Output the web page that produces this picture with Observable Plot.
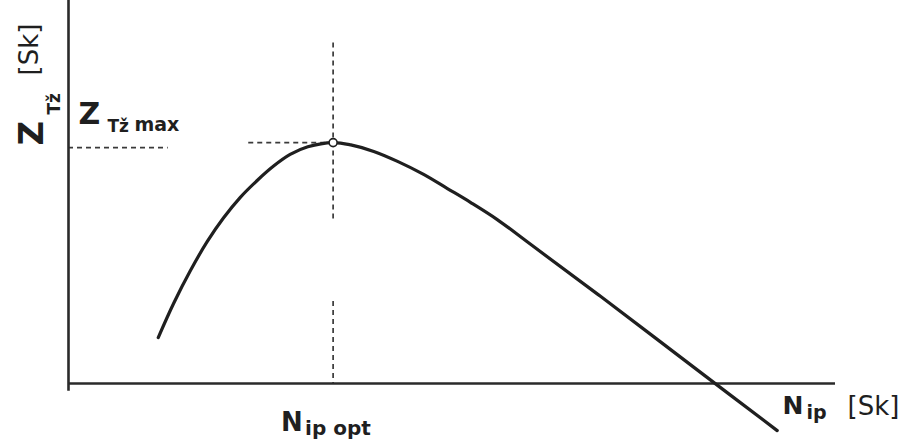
<!DOCTYPE html>
<html>
<head>
<meta charset="utf-8">
<script src="https://cdn.jsdelivr.net/npm/d3@7"></script>
<script src="https://cdn.jsdelivr.net/npm/@observablehq/plot@0.6"></script>
<style>
  html, body { margin: 0; padding: 0; background: #fff; }
  #chart svg { display: block; }
</style>
</head>
<body>
<div id="chart"></div>
<script>
// Profit Z_Tž as a function of the production volume N_ip (relative units, 0–100)
const nIp = [11.7, 13.7, 15.9, 18.1, 20.2, 22.4, 24.6, 26.7, 28.9, 31.2, 34.5,
             36.8, 39.8, 42.9, 46.3, 49.4, 52.4, 55.9, 60.2, 69.4, 82.4, 92.4];
const zT  = [12.0, 20.9, 29.5, 37.1, 43.2, 48.6, 53.0, 56.7, 59.8, 61.8, 62.9,
             62.3, 60.6, 58.0, 54.6, 50.9, 47.3, 42.8, 36.4, 22.7, 2.9, -12.3];

// Optimum point
const nOpt = 34.5;
const zMax = 62.9;

// Label texts
const yTitle = ["Z", "Tž", "[Sk]"];
const maxLabel = ["Z", "Tž", "max"];
const optLabel = ["N", "ip opt"];
const xTitle = ["N", "ip", "[Sk]"];

const curve = nIp.map((n, i) => ({n, z: zT[i]}));

const ink = "#1f1f1f";
const font = "DejaVu Sans, sans-serif";

const txt = (s, opts) => Plot.text([s], {
  text: d => d, fill: ink, fontFamily: font, lineAnchor: "bottom",
  textAnchor: "start", fontWeight: "bold", ...opts
});

const dash = {stroke: "#3a3a3a", strokeWidth: 1.7, strokeDasharray: "5,4"};

const chart = Plot.plot({
  width: 905,
  height: 445,
  marginTop: 0, marginRight: 0, marginBottom: 0, marginLeft: 0,
  x: {domain: [0, 100], range: [68, 835], axis: null},
  y: {domain: [0, 100], range: [383, 0], axis: null},
  style: {background: "white"},
  marks: [
    // guide lines through the optimum
    Plot.ruleX([nOpt], {y1: zMax + 26, y2: zMax - 20, ...dash}),
    Plot.ruleX([nOpt], {y1: zMax - 41.5, y2: 0, ...dash}),
    Plot.ruleY([zMax], {x1: nOpt - 11, x2: nOpt, ...dash}),
    Plot.ruleY([zMax - 1.3], {x1: 0, x2: 13, ...dash}),
    // axes
    Plot.ruleY([0], {x1: 0, x2: 100, stroke: "#2a2a2a", strokeWidth: 2.6}),
    Plot.ruleX([0], {y1: -2, y2: 100, stroke: "#2a2a2a", strokeWidth: 2.6}),
    // profit curve
    Plot.line(curve, {x: "n", y: "z", curve: "catmull-rom", stroke: ink, strokeWidth: 3.2}),
    Plot.dot([0], {x: nOpt, y: zMax, r: 4, fill: "white", stroke: ink, strokeWidth: 1.6}),
    // vertical axis title
    txt(yTitle[0], {x: 0, y: zMax, dx: -26, dy: 3, rotate: -90, fontSize: 34}),
    txt(yTitle[1], {x: 0, y: zMax, dx: -9, dy: -28, rotate: -90, fontSize: 17}),
    txt(yTitle[2], {x: 0, y: 100, dx: -31, dy: 75, rotate: -90, fontSize: 26, fontWeight: "normal"}),
    // maximum label
    txt(maxLabel[0], {x: 0, y: zMax, dx: 10, dy: -19, fontSize: 30}),
    txt(maxLabel[1], {x: 0, y: zMax, dx: 39, dy: -11, fontSize: 17}),
    txt(maxLabel[2], {x: 0, y: zMax, dx: 66, dy: -12, fontSize: 19}),
    // optimum label
    txt(optLabel[0], {x: nOpt, y: 0, dx: -52, dy: 47, fontSize: 26}),
    txt(optLabel[1], {x: nOpt, y: 0, dx: -28, dy: 51, fontSize: 20}),
    // horizontal axis title
    txt(xTitle[0], {x: 100, y: 0, dx: -53, dy: 30, fontSize: 25}),
    txt(xTitle[1], {x: 100, y: 0, dx: -29, dy: 35, fontSize: 19}),
    txt(xTitle[2], {x: 100, y: 0, dx: 12, dy: 31, fontSize: 26, fontWeight: "normal"})
  ]
});

document.getElementById("chart").append(chart);
</script>
</body>
</html>
